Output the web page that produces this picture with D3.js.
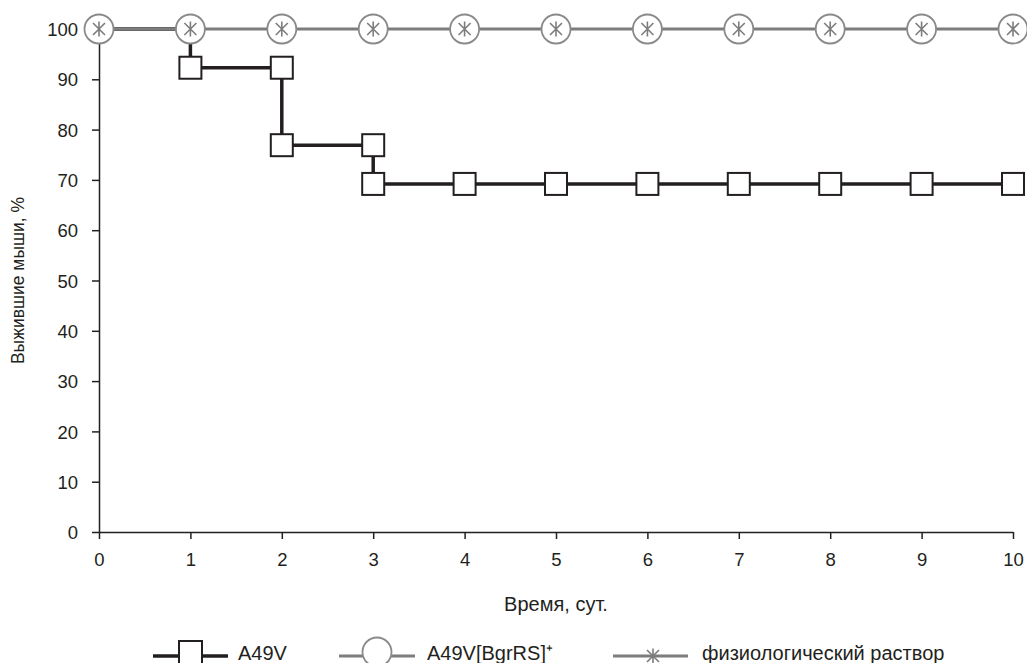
<!DOCTYPE html>
<html>
<head>
<meta charset="utf-8">
<script src="https://cdn.jsdelivr.net/npm/d3@7"></script>
<style>
  body { margin: 0; background: #fff; }
  svg text { font-family: "Liberation Sans", Arial, sans-serif; fill: #231f20; }
</style>
</head>
<body>
<div id="chart"></div>
<script>
const width = 1027;
const height = 663;
const margin = { top: 29, right: 14, bottom: 131, left: 99 };

// data
const days = [0, 1, 2, 3, 4, 5, 6, 7, 8, 9, 10];
const a49vSteps = [
    { day: 0, value: 100 },
    { day: 1, value: 100 },
    { day: 1, value: 92.3 },
    { day: 2, value: 92.3 },
    { day: 2, value: 76.9 },
    { day: 3, value: 76.9 },
    { day: 3, value: 69.2 },
    { day: 10, value: 69.2 }
];
const a49vMarkers = [
    { day: 1, value: 92.3 },
    { day: 2, value: 92.3 },
    { day: 2, value: 76.9 },
    { day: 3, value: 76.9 },
    { day: 3, value: 69.2 },
    { day: 4, value: 69.2 },
    { day: 5, value: 69.2 },
    { day: 6, value: 69.2 },
    { day: 7, value: 69.2 },
    { day: 8, value: 69.2 },
    { day: 9, value: 69.2 },
    { day: 10, value: 69.2 }
];
const bgrValues = [100, 100, 100, 100, 100, 100, 100, 100, 100, 100, 100];
const salineValues = [100, 100, 100, 100, 100, 100, 100, 100, 100, 100, 100];
const yTicks = [0, 10, 20, 30, 40, 50, 60, 70, 80, 90, 100];
const seriesNames = ["A49V", "A49V[BgrRS]⁺", "физиологический раствор"];

const dark = "#231f20";
const grey = "#7d7d7d";

const svg = d3.select('#chart')
    .append('svg')
    .attr('width', width)
    .attr('height', height);

const x = d3.scaleLinear()
    .domain([0, 10])
    .range([margin.left, width - margin.right]);

const y = d3.scaleLinear()
    .domain([0, 100])
    .range([height - margin.bottom, margin.top]);

// axes
const xAxis = svg.append("g")
    .attr("transform", `translate(0,${y(0)})`)
    .call(d3.axisBottom(x).tickValues(days).tickFormat(d3.format("d")).tickSize(7).tickSizeOuter(0).tickPadding(14));

const yAxis = svg.append("g")
    .attr("transform", `translate(${x(0)},0)`)
    .call(d3.axisLeft(y).tickValues(yTicks).tickSize(7).tickSizeOuter(0).tickPadding(14));

[xAxis, yAxis].forEach(g => {
    g.selectAll("path, line").attr("stroke", dark).attr("stroke-width", 1.5);
    g.selectAll("text").attr("font-size", "18.5px").attr("fill", dark);
});
yAxis.selectAll("text").attr("dy", "0.36em");

svg.append("text")
    .attr("x", (x(0) + x(10)) / 2)
    .attr("y", 611)
    .attr("text-anchor", "middle")
    .attr("font-size", "20px")
    .text("Время, сут.");

svg.append("text")
    .attr("transform", `translate(24,${(y(0) + y(100)) / 2}) rotate(-90)`)
    .attr("text-anchor", "middle")
    .attr("font-size", "17.5px")
    .text("Выжившие мыши, %");

// lines
const line = d3.line().x(d => x(d.day)).y(d => y(d.value));

svg.append("path")
    .datum(a49vSteps)
    .attr("fill", "none")
    .attr("stroke", dark)
    .attr("stroke-width", 3.5)
    .attr("d", line);

svg.append("path")
    .datum(days.map((d, i) => ({ day: d, value: salineValues[i] })))
    .attr("fill", "none")
    .attr("stroke", grey)
    .attr("stroke-width", 3)
    .attr("d", line);

// markers
function star(g, size, color) {
    g.append("path")
        .attr("d", `M${-size},${-size}L${size},${size}M${-size},${size}L${size},${-size}M0,${-size * 1.25}L0,${size * 1.25}`)
        .attr("stroke", color)
        .attr("stroke-width", 1.6)
        .attr("fill", "none");
}

svg.append("g")
    .selectAll("rect")
    .data(a49vMarkers)
    .join("rect")
        .attr("x", d => x(d.day) - 11)
        .attr("y", d => y(d.value) - 11)
        .attr("width", 22)
        .attr("height", 22)
        .attr("fill", "#fff")
        .attr("stroke", dark)
        .attr("stroke-width", 2);

svg.append("g")
    .selectAll("circle")
    .data(bgrValues)
    .join("circle")
        .attr("cx", (d, i) => x(days[i]))
        .attr("cy", d => y(d))
        .attr("r", 14.5)
        .attr("fill", "#fff")
        .attr("stroke", "#8a8a8a")
        .attr("stroke-width", 1.8);

svg.append("g")
    .selectAll("g")
    .data(salineValues)
    .join("g")
        .attr("transform", (d, i) => `translate(${x(days[i])},${y(d)})`)
        .each(function() { star(d3.select(this), 6, grey); });

// legend
const legendY = 656;
const legend = svg.append("g");

legend.append("line").attr("x1", 153).attr("x2", 228).attr("y1", legendY).attr("y2", legendY)
    .attr("stroke", dark).attr("stroke-width", 3.5);
legend.append("rect").attr("x", 179).attr("y", legendY - 15).attr("width", 23).attr("height", 23)
    .attr("fill", "#fff").attr("stroke", dark).attr("stroke-width", 2);
legend.append("text").attr("x", 238).attr("y", legendY).attr("dy", "0.2em").attr("font-size", "20px").text(seriesNames[0]);

legend.append("line").attr("x1", 339).attr("x2", 415).attr("y1", legendY).attr("y2", legendY)
    .attr("stroke", grey).attr("stroke-width", 3);
legend.append("circle").attr("cx", 377).attr("cy", legendY - 4).attr("r", 14.5)
    .attr("fill", "#fff").attr("stroke", "#8a8a8a").attr("stroke-width", 1.8);
legend.append("text").attr("x", 427).attr("y", legendY).attr("dy", "0.2em").attr("font-size", "20px").text(seriesNames[1]);

legend.append("line").attr("x1", 613).attr("x2", 688).attr("y1", legendY).attr("y2", legendY)
    .attr("stroke", grey).attr("stroke-width", 3);
star(legend.append("g").attr("transform", `translate(653,${legendY})`), 6, grey);
legend.append("text").attr("x", 702).attr("y", legendY).attr("dy", "0.2em").attr("font-size", "20px").text(seriesNames[2]);
</script>
</body>
</html>
